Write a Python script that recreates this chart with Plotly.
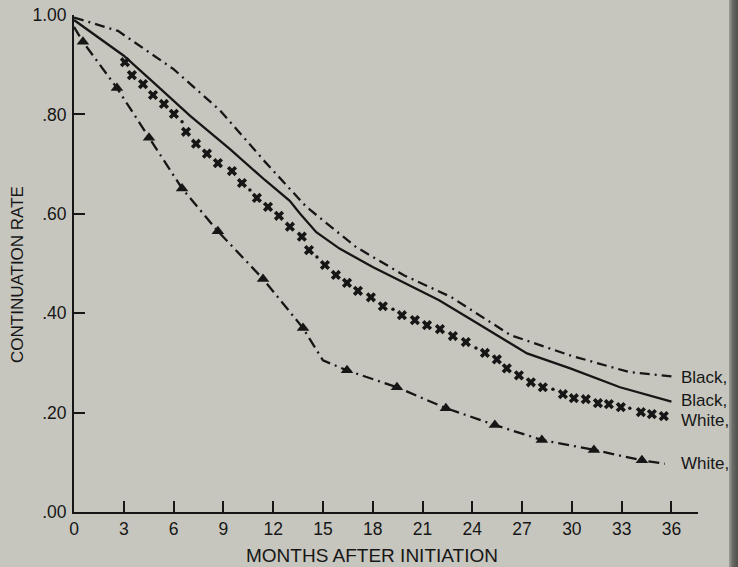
import plotly.graph_objects as go

# ---------------- data ----------------
months_ticks = [0, 3, 6, 9, 12, 15, 18, 21, 24, 27, 30, 33, 36]
y_tickvals = [0.0, 0.2, 0.4, 0.6, 0.8, 1.0]
y_ticktext = [".00", ".20", ".40", ".60", ".80", "1.00"]

# Black (top, dash-dot)
black1_months = [0, 2.65, 6.0, 8.8, 11.5, 14.0, 17.0, 19.9, 22.7, 26.3, 29.9, 33.4, 36.0]
black1_values = [0.995, 0.968, 0.891, 0.808, 0.705, 0.614, 0.533, 0.476, 0.433, 0.356, 0.315, 0.282, 0.273]

# Black (solid)
black2_months = [0, 3, 5, 7, 9.4, 11.5, 13.0, 13.6, 14.6, 16.0, 18.0, 20.0, 22.0, 24.0, 26.0, 27.3, 29.9, 32.9, 36.0]
black2_values = [0.99, 0.918, 0.858, 0.797, 0.73, 0.668, 0.626, 0.601, 0.563, 0.530, 0.493, 0.460, 0.426, 0.386, 0.345, 0.319, 0.289, 0.251, 0.222]

# White (x markers)
white1_months = [3.07, 3.49, 4.16, 4.76, 5.42, 6.02, 6.75, 7.35, 8.01, 8.67, 9.52, 10.12, 11.02, 11.69,
                 12.35, 13.01, 13.73, 14.16, 15.12, 15.78, 16.45, 17.11, 17.89, 18.61, 19.76, 20.54,
                 21.27, 22.05, 22.83, 23.61, 24.76, 25.48, 26.08, 26.81, 27.53, 28.25, 29.46, 30.12,
                 30.84, 31.57, 32.23, 32.95, 34.16, 34.82, 35.54]
white1_values = [0.905, 0.879, 0.861, 0.839, 0.821, 0.801, 0.765, 0.741, 0.721, 0.702, 0.686, 0.662, 0.632, 0.614,
                 0.596, 0.574, 0.554, 0.527, 0.497, 0.477, 0.461, 0.445, 0.432, 0.414, 0.396, 0.386,
                 0.376, 0.368, 0.354, 0.342, 0.320, 0.307, 0.289, 0.275, 0.261, 0.251, 0.237, 0.229,
                 0.227, 0.219, 0.217, 0.211, 0.201, 0.197, 0.193]
white1_dot_months = [6.51, 10.60, 14.64, 19.22, 24.22, 28.86, 33.49]
white1_dot_values = [0.785, 0.648, 0.513, 0.408, 0.330, 0.247, 0.209]

# White (dash-dot with triangles)
white2_months = [0, 0.54, 2.59, 4.52, 6.51, 8.67, 11.39, 13.8, 15.0, 16.45, 19.46, 22.41, 25.36, 28.19, 31.33, 34.22, 35.6]
white2_values = [0.976, 0.946, 0.853, 0.753, 0.651, 0.565, 0.469, 0.370, 0.305, 0.285, 0.251, 0.209, 0.175, 0.145, 0.125, 0.104, 0.097]
white2_tri_months = [0.54, 2.59, 4.52, 6.51, 8.67, 11.39, 13.8, 16.45, 19.46, 22.41, 25.36, 28.19, 31.33, 34.22]
white2_tri_values = [0.946, 0.853, 0.753, 0.651, 0.565, 0.469, 0.370, 0.285, 0.251, 0.209, 0.175, 0.145, 0.125, 0.104]

labels = ["Black,", "Black,", "White,", "White,"]
label_values = [0.271, 0.225, 0.185, 0.098]

x_title = "MONTHS AFTER INITIATION"
y_title = "CONTINUATION RATE"

# ---------------- figure ----------------
INK = "#161616"
BG = "#c7c6be"
FONT = "Liberation Sans, Arial, Helvetica, sans-serif"

# plot area in pixels (layout)
L, R, T, B = 74, 40, 15, 55
W, H = 738, 567
PW, PH = W - L - R, H - T - B


def px_to_paper_x(px):
    return (px - L) / PW


def px_to_paper_y(py):
    return (H - B - py) / PH


fig = go.Figure()

fig.add_trace(go.Scatter(x=black1_months, y=black1_values, mode="lines",
                         line=dict(color=INK, width=2.3, dash="10px,5px,2px,5px"),
                         cliponaxis=False, showlegend=False, hoverinfo="skip"))
fig.add_trace(go.Scatter(x=black2_months, y=black2_values, mode="lines",
                         line=dict(color=INK, width=2.3),
                         cliponaxis=False, showlegend=False, hoverinfo="skip"))
fig.add_trace(go.Scatter(x=white1_months, y=white1_values, mode="markers",
                         marker=dict(symbol="x", size=9, color=INK, line=dict(width=0)),
                         cliponaxis=False, showlegend=False, hoverinfo="skip"))
fig.add_trace(go.Scatter(x=white1_dot_months, y=white1_dot_values, mode="markers",
                         marker=dict(symbol="circle", size=3.5, color=INK),
                         cliponaxis=False, showlegend=False, hoverinfo="skip"))
fig.add_trace(go.Scatter(x=white2_months, y=white2_values, mode="lines",
                         line=dict(color=INK, width=2.3, dash="11px,5px,2px,5px"),
                         cliponaxis=False, showlegend=False, hoverinfo="skip"))
fig.add_trace(go.Scatter(x=white2_tri_months, y=white2_tri_values, mode="markers",
                         marker=dict(symbol="triangle-up", size=11, color=INK, line=dict(width=0)),
                         cliponaxis=False, showlegend=False, hoverinfo="skip"))

for txt, v in zip(labels, label_values):
    fig.add_annotation(x=36, y=v, xref="x", yref="y", text=txt, showarrow=False,
                       xanchor="left", yanchor="middle", xshift=8,
                       font=dict(family=FONT, size=17, color=INK))

# axis titles
fig.add_annotation(x=px_to_paper_x(372), y=px_to_paper_y(555), xref="paper", yref="paper",
                   text=x_title, showarrow=False, xanchor="center", yanchor="middle",
                   font=dict(family=FONT, size=19, color=INK))
fig.add_annotation(x=px_to_paper_x(17), y=px_to_paper_y(275), xref="paper", yref="paper",
                   text=y_title, showarrow=False, xanchor="center", yanchor="middle", textangle=-90,
                   font=dict(family=FONT, size=17, color=INK))

fig.update_layout(
    width=W, height=H,
    margin=dict(l=L, r=R, t=T, b=B, autoexpand=False),
    paper_bgcolor=BG, plot_bgcolor=BG,
    font=dict(family=FONT, size=17, color=INK),
    showlegend=False,
    hovermode=False,
)
fig.update_xaxes(
    automargin=False,
    range=[0, 37.6], tickvals=months_ticks, ticktext=[str(m) for m in months_ticks],
    showgrid=False, zeroline=False, showline=True, linecolor=INK, linewidth=2,
    ticks="inside", ticklen=11, tickwidth=2, tickcolor=INK,
    tickfont=dict(family=FONT, size=17.5, color=INK),
)
fig.update_yaxes(
    automargin=False,
    range=[0, 1.0], tickvals=y_tickvals, ticktext=y_ticktext,
    showgrid=False, zeroline=False, showline=True, linecolor=INK, linewidth=2,
    ticks="inside", ticklen=11, tickwidth=2, tickcolor=INK,
    ticklabelstandoff=2,
    tickfont=dict(family=FONT, size=17.5, color=INK),
)

# page styling: no body margin, plus the dark scanned-page gutter at the right edge
post = (
    "document.body.style.margin='0';document.body.style.padding='0';"
    "document.body.style.background='" + BG + "';"
    "var g=document.createElement('div');"
    "g.style.cssText='position:absolute;left:729px;top:0;width:9px;height:567px;"
    "pointer-events:none;background:linear-gradient(to right,#a09f99,#6a6a66 40%,#4e4e4b)';"
    "document.body.appendChild(g);"
)
fig.write_html("out.html", config={"displayModeBar": False}, post_script=post)
